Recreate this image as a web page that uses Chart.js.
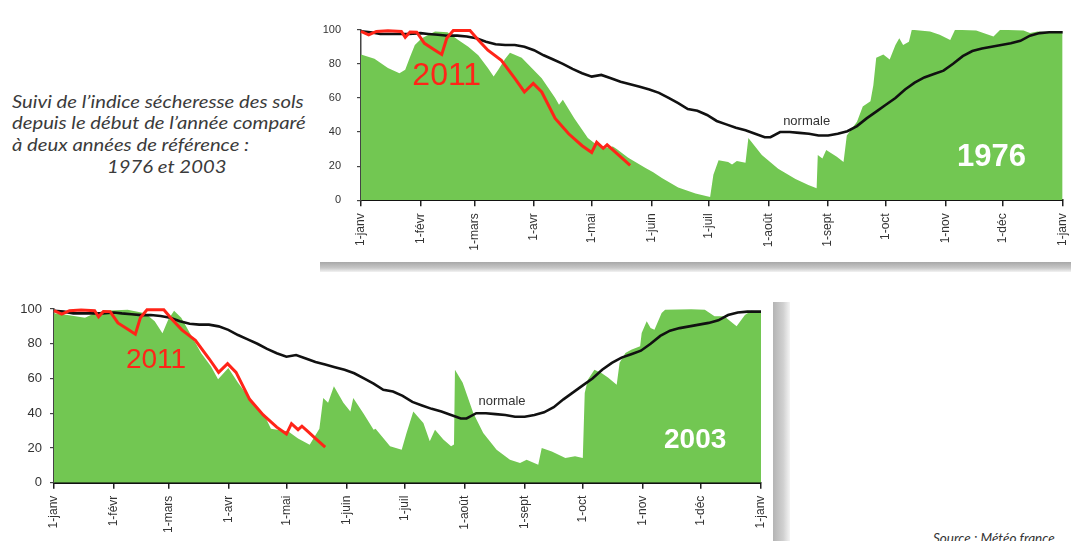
<!DOCTYPE html>
<html><head><meta charset="utf-8">
<script src="https://cdn.jsdelivr.net/npm/chart.js@4"></script>
<style>
html,body{margin:0;padding:0;background:#fff;width:1071px;height:541px;overflow:hidden;position:relative;}
.box{position:absolute;}
.intro{position:absolute;font-family:Lato,"Open Sans",sans-serif;font-style:italic;font-size:18px;line-height:21.6px;color:#3b3b3b;white-space:nowrap;transform-origin:0 0;}
.src{position:absolute;left:933px;top:529.6px;font-family:Lato,"Open Sans",sans-serif;font-style:italic;font-size:13.5px;color:#333;white-space:nowrap;}
.shadeTop{position:absolute;left:320px;top:262px;width:751px;height:10px;background:linear-gradient(to bottom,#a8a8a8,#c8c8c8 60%,#f2f2f2);}
.shadeRight{position:absolute;left:773px;top:302px;width:17px;height:239px;background:linear-gradient(to right,#b4b4b4,#d0d0d0 60%,#f4f4f4);}
</style></head><body>
<div class="intro" style="left:11.7px;top:90.5px">Suivi de l’indice sécheresse des sols</div>
<div class="intro" style="left:11.7px;top:112.2px">depuis le début de l’année comparé</div>
<div class="intro" style="left:11.7px;top:133.9px">à deux années de référence :</div>
<div class="intro" style="left:106.7px;top:155.5px">1976 et 2003</div>
<div class="shadeTop"></div>
<div class="shadeRight"></div>
<div class="box" style="left:320px;top:20px;width:751px;height:250px"><canvas id="c1976"></canvas></div>
<div class="box" style="left:0px;top:300px;width:769px;height:241px"><canvas id="c2003"></canvas></div>
<div class="src">Source : Météo france</div>
<script>
// ---- axis data ----
const monthDays = [0,31,59,90,120,151,181,212,243,273,304,334,365];
const monthLabels = ['1-janv','1-févr','1-mars','1-avr','1-mai','1-juin','1-juil','1-août','1-sept','1-oct','1-nov','1-déc','1-janv'];
const yTicks = [0,20,40,60,80,100];

// ---- normale (day of year, index) ----
const normaleDays = [0,5,10,15,20,25,31,35,40,45,50,55,60,65,70,75,80,85,90,95,100,105,110,115,120,125,130,135,140,145,150,155,160,165,170,175,180,185,190,195,200,205,210,213,218,223,228,233,238,243,248,253,258,263,268,273,278,283,288,293,298,303,308,313,318,323,328,333,338,343,348,353,358,365];
const normaleVals = [99,98.5,97.5,97.5,97.5,97.5,98,97.5,97,96.5,96.5,96,95,93,91.5,91,91,90,88,85,82.5,80,77,74.5,72.5,73.5,71.5,69.5,68,66.5,65,63,60,57,53.5,52.5,50,46.5,44.5,42.5,41,39,37,37,40,40,39.5,39,38,38,39,40.5,43.5,48,52,56,60,65,69,72,74,76,80,84.5,87.5,89,90,91,92,93.5,96.5,98,98.5,98.5];

// ---- 2011 ----
const y2011Days = [0,4,8,14,21,23,25.5,29,33,38.5,42,44.6,48,56.7,61,66,73,80,85,89.6,94,101,108,115,120,122.6,126,128,131,135.5,140];
const y2011Vals = [99,97,99,99.4,99,95.5,98.6,98.5,92,88,85.5,95,99.5,99.5,94,88,82,71.5,63.5,68.5,63.5,48,39,32,28,34,30.5,32.5,29.5,25,20.5];

// ---- 1976 ----
const y1976Days = [0,7,14,20,23,25.5,28,31.6,38.5,45,50.6,55.8,61,66,69,71.4,75,77.5,83.6,88.8,94,101,103,105,111,118,122,128,131,133,139,148,152,156.5,165,174,181.6,183.3,186,191,193,195.5,200,201.5,208.5,217,226,232.7,237,237.6,240,242,247.5,251,252.7,258,261,265,266.5,268,271.7,275,278,280,282,285,286.5,296,301,306.5,309,320,329,332.5,344.6,348,352,365];
const y1976Vals = [85.5,83,77.5,74.5,76.5,84,91,95,99,98.5,94,90,85,77.5,72.5,76.5,83,86.5,83.5,77.5,71.5,60,56,59,48,36.5,33,31,31.5,30,25,19,16.5,13,7.5,4,2,15,23.5,22.5,21,23,22,36.5,26.5,18.5,12.5,9,7,26.5,24.5,29.5,25.5,22.5,38,46,55,58,67.5,83.5,85.5,82.5,91,95,91,93,100,99,97,94,100,99.5,96,100,99.5,98,99,98];

// ---- 2003 ----
const y2003Days = [0,7,16,21,26,38,47,52,56,59,62,65.7,71,76,81,84.7,90,95,102,109,112,121,126,132,137,139,141.5,144.5,149.4,153,154.5,159.7,165,166,173.5,179.5,182,185.5,190.7,194,196.7,201,205,206.5,207,211,216.5,221.6,228.5,235.4,240.6,244,250,251.8,257,264,269,273,274,275.6,279,282.8,286,290.5,292,295,298,302.6,303.4,306,308,310,313.7,315.5,329,336,341,346,352.4,356.7,360,365];
const y2003Vals = [97.5,96.5,95,97.5,99,99.5,97.5,93,86,94,99,95,84.5,74.5,67,59.5,66,57.5,47,38,31,29.5,25.5,21.8,31,48.7,46,55.5,46,41,48.8,40,30.5,31,21,19,28.6,41,34.4,23.8,30.5,24.8,21,22,65,57.5,40,28.6,19,13.2,11.3,13.2,10.4,20,18,14.2,15.2,14.2,51.6,59.3,65,63,60.6,56.4,69,74.7,76.6,78.5,86.2,93,89,88,97.7,99.5,99.8,99.5,95.8,95.8,90,96.5,99,98.5];

const pts = (d, v) => d.map((x, i) => ({x, y: v[i]}));

const labelPlugin = {
  id: 'chartLabels',
  afterDatasetsDraw(chart, args, opts) {
    const {ctx, scales: {x, y}} = chart;
    ctx.save();
    (opts.items || []).forEach(it => {
      ctx.font = it.font;
      ctx.fillStyle = it.color;
      ctx.textAlign = 'center';
      ctx.textBaseline = 'middle';
      ctx.fillText(it.text, x.getPixelForValue(it.day), y.getPixelForValue(it.val));
    });
    ctx.restore();
  }
};

const FONT = '"Liberation Sans", Arial, sans-serif';
const GREEN = '#72c752';

function makeChart(id, refDays, refVals, c) {
  return new Chart(document.getElementById(id), {
    type: 'line',
    data: {
      datasets: [
        {label: '2011', data: pts(y2011Days, y2011Vals), borderColor: '#ff2418', borderWidth: 3, pointRadius: 0, fill: false, tension: 0, clip: 6},
        {label: 'normale', data: pts(normaleDays, normaleVals), borderColor: '#111', borderWidth: 2.6, pointRadius: 0, fill: false, tension: 0, clip: 6},
        {label: c.refName, data: pts(refDays, refVals), borderWidth: 0, borderColor: GREEN, backgroundColor: GREEN, pointRadius: 0, fill: 'origin', tension: 0}
      ]
    },
    options: {
      responsive: true, maintainAspectRatio: false, animation: false,
      layout: {padding: {top: c.padTop, right: c.padRight, left: 0, bottom: 0}},
      plugins: {legend: {display: false}, tooltip: {enabled: false}, chartLabels: {items: c.items}},
      scales: {
        x: {
          type: 'linear', min: 0, max: 365,
          afterBuildTicks: s => { s.ticks = monthDays.map(v => ({value: v})); },
          afterFit: s => { s.height = c.xHeight; s.paddingLeft = 0; s.paddingRight = 0; },
          ticks: {autoSkip: false, minRotation: 90, maxRotation: 90, padding: c.xPad, color: '#333',
            font: {family: FONT, size: 12}, callback: (v, i) => monthLabels[i]},
          grid: {display: true, drawOnChartArea: false, drawTicks: true, tickLength: 6, color: '#222', lineWidth: 1.5},
          border: {display: true, color: '#111', width: 2}
        },
        y: {
          min: 0, max: 100,
          afterBuildTicks: s => { s.ticks = yTicks.map(v => ({value: v})); },
          afterFit: s => { s.width = c.yWidth; s.paddingTop = 0; s.paddingBottom = 0; },
          ticks: {padding: c.yPad, color: '#333', font: {family: FONT, size: c.yFont}},
          grid: {display: true, drawOnChartArea: false, drawTicks: true, tickLength: 4, color: '#444', lineWidth: 1.2},
          border: {display: true, color: '#444', width: 1.5}
        }
      }
    },
    plugins: [labelPlugin]
  });
}

makeChart('c1976', y1976Days, y1976Vals, {
  refName: '1976', padTop: 9.7, padRight: 8.3, xHeight: 69.7, yWidth: 41, xPad: 7, yPad: 16, yFont: 11,
  items: [
    {text: '2011', day: 44.6, val: 72.5, font: '32px ' + FONT, color: '#ff2418'},
    {text: '1976', day: 328, val: 25, font: 'bold 31px ' + FONT, color: '#ffffff'},
    {text: 'normale', day: 231.8, val: 46.5, font: '13px ' + FONT, color: '#333'}
  ]
});
makeChart('c2003', y2003Days, y2003Vals, {
  refName: '2003', padTop: 9, padRight: 8, xHeight: 58.3, yWidth: 54, xPad: 7, yPad: 8, yFont: 13,
  items: [
    {text: '2011', day: 52.7, val: 70.6, font: '28px ' + FONT, color: '#ff2418'},
    {text: '2003', day: 331, val: 24.6, font: 'bold 28px ' + FONT, color: '#ffffff'},
    {text: 'normale', day: 231.3, val: 47, font: '13px ' + FONT, color: '#333'}
  ]
});

// fit the intro text width to the reference
const lines = document.querySelectorAll('.intro');
const w = lines[0].getBoundingClientRect().width;
const s = 291.6 / w;
lines.forEach(l => { l.style.transform = 'scaleX(' + s + ')'; });
</script>
</body></html>
